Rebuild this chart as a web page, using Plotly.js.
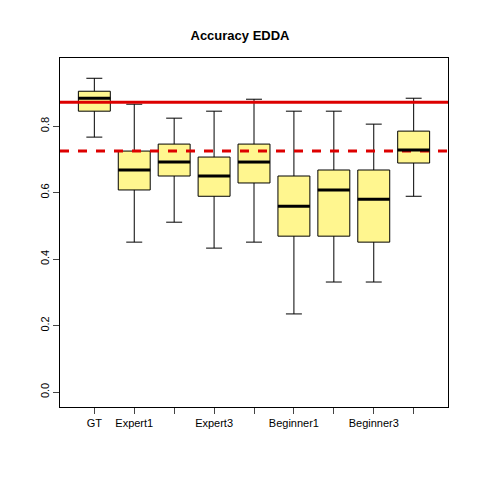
<html><head><script src="https://cdn.plot.ly/plotly-3.0.1.min.js"></script></head><body style="margin:0">
<div id="c" style="width:480px;height:480px"></div>
<script>
const positions=[1,2,3,4,5,6,7,8,9];
const tickLabels=["GT","Expert1","","Expert3","","Beginner1","","Beginner3",""];
const lowW=[0.767,0.451,0.511,0.433,0.451,0.235,0.331,0.331,0.589];
const q1=[0.845,0.608,0.650,0.589,0.629,0.469,0.469,0.451,0.689];
const med=[0.884,0.668,0.692,0.650,0.692,0.559,0.608,0.580,0.728];
const q3=[0.905,0.725,0.746,0.707,0.746,0.650,0.668,0.668,0.785];
const upW=[0.944,0.866,0.824,0.845,0.881,0.845,0.845,0.806,0.884];
const solidRef=0.872, dashRef=0.725;
const trace={type:'box',x:positions,q1:q1,median:med,q3:q3,lowerfence:lowW,upperfence:upW,
 fillcolor:'#FFF68F',line:{color:'black',width:1},width:0.8,whiskerwidth:0.5,hoverinfo:'none'};
Plotly.newPlot('c',[trace],{
 width:480,height:480,showlegend:false,plot_bgcolor:'white',paper_bgcolor:'white',
 margin:{l:60,r:32,t:58,b:73},
 title:{text:'<b>Accuracy EDDA</b>',x:0.5,y:0.935,font:{family:'Liberation Sans',size:13,color:'black'}},
 font:{family:'Liberation Sans',size:11,color:'black'},
 xaxis:{range:[0.14,9.86],tickvals:positions,ticktext:tickLabels,ticks:'outside',ticklen:6,showgrid:false,zeroline:false,showline:true,mirror:true,linecolor:'black'},
 yaxis:{range:[-0.045,1.005],tickvals:[0,0.2,0.4,0.6,0.8],ticktext:['0.0','0.2','0.4','0.6','0.8'],tickangle:-90,ticks:'outside',ticklen:6,showgrid:false,zeroline:false,showline:true,mirror:true,linecolor:'black'},
 shapes:[
  {type:'line',xref:'paper',x0:0,x1:1,y0:solidRef,y1:solidRef,line:{color:'#DD0000',width:3}},
  {type:'line',xref:'paper',x0:0,x1:1,y0:dashRef,y1:dashRef,line:{color:'#DD0000',width:3,dash:'dash'}}
 ].concat(positions.map((p,i)=>({type:'line',x0:p-0.4,x1:p+0.4,y0:med[i],y1:med[i],line:{color:'black',width:3}})))
},{staticPlot:true});
</script></body></html>
